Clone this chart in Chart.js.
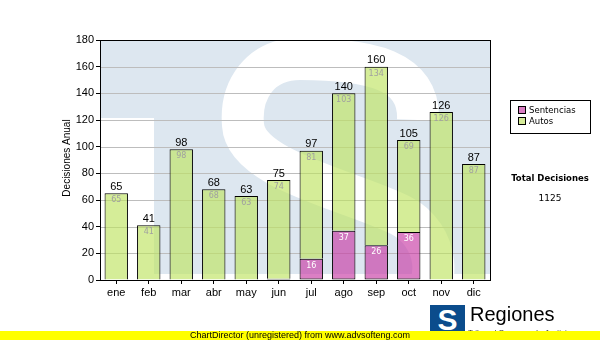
<!DOCTYPE html>
<html>
<head>
<meta charset="utf-8">
<script src="https://cdn.jsdelivr.net/npm/chart.js@4"></script>
<style>
  html, body { margin: 0; padding: 0; background: #fff; }
  #wrap { position: relative; width: 600px; height: 340px; overflow: hidden; font-family: "Liberation Sans", Arial, sans-serif; }
  #chart { position: absolute; left: 0; top: 0; }
  .legend { position: absolute; left: 510px; top: 100px; width: 81px; height: 34px; border: 1px solid #000; background: #fff; box-sizing: border-box; font: 8.5px "DejaVu Sans", Verdana, sans-serif; }
  .legend div { position: absolute; left: 7px; height: 10px; line-height: 10px; }
  .legend span { display: inline-block; width: 6px; height: 6px; border: 1px solid #000; margin-right: 3px; vertical-align: -1px; }
  .total-title { position: absolute; left: 500px; width: 100px; top: 173px; text-align: center; font: bold 8.5px "DejaVu Sans", Verdana, sans-serif; }
  .total-value { position: absolute; left: 500px; width: 100px; top: 193px; text-align: center; font: 9px "DejaVu Sans", Verdana, sans-serif; }
  .logo-box { position: absolute; left: 430px; top: 305px; width: 35px; height: 30px; background: #0b4c8c; color: #fff; font: bold 30px "Liberation Sans", Arial, sans-serif; line-height: 30px; text-align: center; overflow: hidden; }
  .logo-name { position: absolute; left: 470px; top: 303px; font: 20px "Liberation Sans", Arial, sans-serif; color: #000; }
  .logo-sub { position: absolute; left: 468px; top: 328px; font: 8px "Liberation Sans", Arial, sans-serif; color: #333; }
  .banner { position: absolute; left: 0; top: 331px; width: 600px; height: 9px; background: #ffff00; font: 9px "Liberation Sans", Arial, sans-serif; line-height: 9px; text-align: center; color: #000; }
</style>
</head>
<body>
<div id="wrap">
  <canvas id="chart" width="600" height="340"></canvas>
  <div class="legend">
    <div style="top:4px"><span style="background:#db7ec4"></span>Sentencias</div>
    <div style="top:15px"><span style="background:#d5eb99"></span>Autos</div>
  </div>
  <div class="total-title">Total Decisiones</div>
  <div class="total-value" id="total-value"></div>
  <div class="logo-box">S</div>
  <div class="logo-name">Regiones</div>
  <div class="logo-sub">Tribunal Supremo de Justicia</div>
  <div class="banner">ChartDirector (unregistered) from www.advsofteng.com</div>
</div>
<script>
var months     = ['ene', 'feb', 'mar', 'abr', 'may', 'jun', 'jul', 'ago', 'sep', 'oct', 'nov', 'dic'];
var sentencias = [0, 0, 0, 0, 0, 1, 16, 37, 26, 36, 0, 0];
var autos      = [65, 41, 98, 68, 63, 74, 81, 103, 134, 69, 126, 87];
var yMax  = 180;
var yStep = 20;

var totals = months.map(function(m, i) { return sentencias[i] + autos[i]; });
document.getElementById('total-value').textContent =
    totals.reduce(function(a, b) { return a + b; }, 0);

// light blue logo watermark behind the bars
var watermark = {
    id: 'watermark',
    beforeDatasetsDraw: function(chart) {
        var ctx = chart.ctx, a = chart.chartArea;
        var L = a.left, T = a.top;
        ctx.save();
        ctx.fillStyle = '#fff';
        ctx.fillRect(L, T, a.right - L, a.bottom - T);
        ctx.beginPath();
        ctx.rect(L, T, a.right - L, a.bottom - T);
        ctx.clip();
        ctx.fillStyle = '#dde7f0';
        ctx.beginPath();
        ctx.moveTo(L, T);
        ctx.lineTo(a.right, T);
        ctx.lineTo(a.right, a.bottom - 6);
        ctx.lineTo(L + 54, a.bottom - 6);
        ctx.lineTo(L + 54, T + 78);
        ctx.lineTo(L, T + 78);
        ctx.closePath();
        ctx.fill();
        // white "S"
        ctx.strokeStyle = '#fff';
        ctx.lineWidth = 42;
        ctx.lineCap = 'butt';
        ctx.beginPath();
        ctx.moveTo(L + 318, T + 80);
        ctx.bezierCurveTo(L + 320, T + 30, L + 270, T + 19, L + 200, T + 19);
        ctx.bezierCurveTo(L + 160, T + 19, L + 140, T + 50, L + 143, T + 85);
        ctx.bezierCurveTo(L + 146, T + 130, L + 250, T + 150, L + 300, T + 175);
        ctx.bezierCurveTo(L + 340, T + 195, L + 345, T + 250, L + 310, T + 270);
        ctx.stroke();
        ctx.restore();
        // horizontal grid drawn over the watermark
        var y = chart.scales.y;
        ctx.save();
        ctx.strokeStyle = '#bdbdbd';
        ctx.lineWidth = 1;
        for (var v = yStep; v < yMax; v += yStep) {
            var py = Math.round(y.getPixelForValue(v)) + 0.5;
            ctx.beginPath();
            ctx.moveTo(L, py);
            ctx.lineTo(a.right, py);
            ctx.stroke();
        }
        ctx.restore();
    }
};

// value labels, frame and axis title
var labels = {
    id: 'labels',
    afterDatasetsDraw: function(chart) {
        var ctx = chart.ctx, a = chart.chartArea;
        var sMeta = chart.getDatasetMeta(0), aMeta = chart.getDatasetMeta(1);
        ctx.save();
        ctx.textAlign = 'center';
        months.forEach(function(m, i) {
            var top = aMeta.data[i];
            ctx.fillStyle = '#000';
            ctx.font = '11px "Liberation Sans", Arial, sans-serif';
            ctx.textBaseline = 'bottom';
            ctx.fillText(totals[i], top.x, top.y - 1);
            ctx.font = '8px "DejaVu Sans", Verdana, sans-serif';
            ctx.textBaseline = 'middle';
            ctx.fillStyle = '#a0a0a0';
            ctx.fillText(autos[i], top.x, top.y + 7);
            if (sentencias[i] >= 5) {
                var s = sMeta.data[i];
                ctx.fillStyle = '#fff';
                ctx.fillText(sentencias[i], s.x, s.y + 7);
            }
        });
        ctx.strokeStyle = '#000';
        ctx.lineWidth = 1;
        ctx.strokeRect(Math.round(a.left) + 0.5, Math.round(a.top) + 0.5,
                       Math.round(a.right - a.left), Math.round(a.bottom - a.top));
        ctx.translate(67, 158);
        ctx.rotate(-Math.PI / 2);
        ctx.font = '10px "Liberation Sans", Arial, sans-serif';
        ctx.fillStyle = '#000';
        ctx.fillText('Decisiones Anual', 0, 0);
        ctx.restore();
    }
};

new Chart(document.getElementById('chart'), {
    type: 'bar',
    data: {
        labels: months,
        datasets: [{
            label: 'Sentencias',
            data: sentencias,
            backgroundColor: 'rgba(200,60,165,0.66)',
            borderColor: '#000',
            borderWidth: 1,
            borderSkipped: false
        }, {
            label: 'Autos',
            data: autos,
            backgroundColor: 'rgba(191,228,99,0.66)',
            borderColor: '#000',
            borderWidth: 1,
            borderSkipped: 'bottom'
        }]
    },
    options: {
        responsive: false,
        animation: false,
        categoryPercentage: 1,
        barPercentage: 0.72,
        layout: { padding: { left: 0, top: 40, right: 110, bottom: 0 } },
        plugins: { legend: { display: false }, tooltip: { enabled: false } },
        scales: {
            x: {
                stacked: true,
                afterFit: function(s) { s.height = 60; },
                grid: { offset: false, drawOnChartArea: false, tickColor: '#000', tickLength: 4 },
                border: { color: '#000' },
                ticks: { color: '#000', padding: 2, font: { family: '"Liberation Sans", Arial, sans-serif', size: 11 } }
            },
            y: {
                stacked: true,
                min: 0,
                max: yMax,
                afterFit: function(s) { s.width = 100; },
                grid: { drawOnChartArea: false, tickColor: '#000', tickLength: 4 },
                border: { color: '#000' },
                ticks: { stepSize: yStep, color: '#000', padding: 2, font: { family: '"Liberation Sans", Arial, sans-serif', size: 11 } }
            }
        }
    },
    plugins: [watermark, labels]
});
</script>
</body>
</html>
